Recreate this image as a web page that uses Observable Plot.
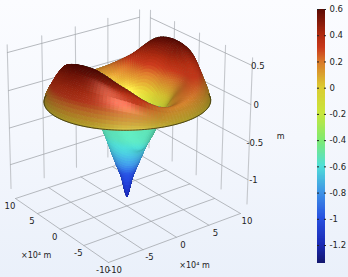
<!DOCTYPE html>
<html><head><meta charset="utf-8">
<script src="https://cdn.jsdelivr.net/npm/d3@7"></script>
<script src="https://cdn.jsdelivr.net/npm/@observablehq/plot@0.6"></script>
<style>
html,body{margin:0;padding:0;width:348px;height:277px;overflow:hidden;background:linear-gradient(180deg,#fbfcff 0%,#f4f7fd 50%,#eaf0fa 100%);}
#wrap{position:relative;width:348px;height:277px}
#wrap svg{position:absolute;left:0;top:0;background:transparent;font-family:"DejaVu Sans",sans-serif}
</style></head><body><div id="wrap"></div>
<script>
// ---- values ----
const colorbarTicks=[0.6,0.4,0.2,0,-0.2,-0.4,-0.6,-0.8,-1,-1.2];
const colorStops=[-1.34,-1.2,-1,-0.8,-0.6,-0.4,-0.2,0,0.2,0.3,0.4,0.6];
const colorRange=["#14186e","#1a2ab4","#2850e0","#3f94e6","#50dfd8","#80ea70","#c8e63c","#dccb32","#d8762a","#c93a1c","#ae2a10","#5a0a04"];
const floorTicks=[-10,-5,0,5,10];
const heightTicks=[-1,-0.5,0,0.5];
const heightLabels=["-1","-0.5","0","0.5"];
const rings=[0,.07,.15,.25,.35,.45,.55,.65,.75,.85,.93,.97,1];
const angles=[0,30,60,90,120,150,180,210,240,270,300,330];
const z000=[-1.3,-1.02,-.8,-.52,-.3,-.08,.1,.24,.32,.3,.16,.08,0];
const z030=[-1.3,-1.02,-.78,-.42,-.17,.1,.32,.48,.56,.5,.3,.16,0];
const z060=[-1.3,-1.02,-.76,-.36,-.08,.18,.4,.55,.58,.46,.25,.13,0];
const z090=[-1.3,-1.02,-.76,-.34,-.1,.06,.18,.28,.3,.25,.14,.07,0];
const z120=[-1.3,-1.02,-.76,-.38,-.2,-.08,.02,.09,.13,.12,.08,.04,0];
const z150=[-1.3,-1.02,-.78,-.44,-.25,-.08,.06,.13,.17,.15,.09,.05,0];
const z180=[-1.3,-1.02,-.8,-.5,-.25,.02,.22,.38,.42,.3,.18,.1,0];
const z210=[-1.3,-1.02,-.8,-.52,-.22,.1,.38,.55,.59,.54,.4,.25,0];
const z240=[-1.3,-1.02,-.82,-.55,-.26,.05,.35,.56,.6,.56,.43,.28,0];
const z270=[-1.3,-1.02,-.84,-.6,-.4,-.1,.15,.33,.41,.41,.33,.22,0];
const z300=[-1.3,-1.02,-.84,-.62,-.52,-.36,-.2,-.04,.1,.18,.14,.08,0];
const z330=[-1.3,-1.02,-.82,-.58,-.4,-.18,.02,.14,.2,.2,.12,.06,0];
const heights=[z000,z030,z060,z090,z120,z150,z180,z210,z240,z270,z300,z330];
const tintIn=[-1.34,-.95,-.8,-.6,-.4,0];
const tintOut=[-1.25,-1,-.8,-.65,-.55,-.52];

// ---- camera ----
const floorZ=-1.43;
function cam(x,y,z){
  const A=(x+10)/20,B=(y+10)/20,d=z-floorZ,c=-0.0215;
  const w=0.0615*A+0.0832*B+1+c*d;
  return {x:(146.76*A-91.75*B+108+c*108*d)/w,y:(-35.9*A-47.5*B+262+c*3800*d)/w,w};
}
const R1=10.05,R2=8.7;
function surf(r,t,z){
  const a=t*Math.PI/180,p=R1*r*Math.cos(a),q=R2*r*Math.sin(a);
  return cam(.806*p+.602*q,-.592*p+.796*q,z);
}
const cr=(a,b,c,d,u)=>.5*(2*b+(c-a)*u+(2*a-5*b+4*c-d)*u*u+(3*b-a-3*c+d)*u*u*u);
function heightAt(ri,ti){ // ri, ti are table indices
  const n=angles.length,m=rings.length;
  const i0=Math.floor(ti),u=ti-i0;
  const col=k=>{
    const j=Math.min(Math.floor(ri),m-2),v=ri-j,h=heights[((i0+k)%n+n)%n];
    return cr(h[Math.max(j-1,0)],h[j],h[j+1],h[Math.min(j+2,m-1)],v);
  };
  return cr(col(-1),col(0),col(1),col(2),u);
}
function ringAt(ri){const j=Math.min(Math.floor(ri),rings.length-2);return rings[j]+(rings[j+1]-rings[j])*(ri-j);}

const base=d3.scaleLinear().domain(colorStops).range(colorRange).clamp(true);
const tint=d3.scaleLinear().domain(tintIn).range(tintOut).clamp(true);
function shade(zv,nv,under,r){
  const zc=under?tint(zv):zv;
  const edge=r>.88?1-.22*(r-.88)/.12:1;
  const col=d3.rgb(base(zc)),f=(under?0.82+0.32*nv:0.72+0.36*nv)*edge,s=(under?.12:.3)*Math.pow(nv,24)*255;
  return d3.rgb(Math.min(255,col.r*f+s),Math.min(255,col.g*f+s),Math.min(255,col.b*f+s)).formatHex();
}
// surface facets, back to front
const NR=72,NT=132,view=[0,-.91,.41];
const vert=[];
for(let i=0;i<=NR;i++){vert[i]=[];const ri=i/NR*(rings.length-1),r=ringAt(ri);
  for(let j=0;j<=NT;j++){const ti=j/NT*angles.length,t=ti*30,z=heightAt(ri,ti);
    vert[i][j]={r,t,z,p:surf(r,t,z),X:r*Math.cos(t*Math.PI/180),Y:r*Math.sin(t*Math.PI/180)};}}
const facets=[];
for(let i=0;i<NR;i++)for(let j=0;j<NT;j++){
  const a=vert[i][j],b=vert[i+1][j],c=vert[i+1][j+1],d=vert[i][j+1];
  const ux=c.X-a.X,uy=c.Y-a.Y,uz=c.z-a.z,wx=d.X-b.X,wy=d.Y-b.Y,wz=d.z-b.z;
  let nx=uy*wz-uz*wy,ny=uz*wx-ux*wz,nz=ux*wy-uy*wx;const l=(Math.hypot(nx,ny,nz)||1)*(nz<0?-1:1);
  const sv=(nx*view[0]+ny*view[1]+nz*view[2])/l;
  const zm=(a.z+b.z+c.z+d.z)/4;
  facets.push({pts:[a,b,c,d],w:(a.p.w+b.p.w+c.p.w+d.p.w)/4,fill:shade(zm,Math.abs(sv),sv<0,b.r)});
}
facets.sort((a,b)=>b.w-a.w);
const rows=[];
facets.forEach((f,id)=>f.pts.forEach(v=>rows.push({x:v.p.x,y:v.p.y,id,fill:f.fill})));

// grid
const grid=[];let gid=0;
const seg=(p,q,k)=>{const g=gid++;grid.push({...p,g,k},{...q,g,k});};
const zT=.6,zB=-1.33,far=11;
for(const t of floorTicks){
  seg(cam(t,-10,floorZ),cam(t,10,floorZ),"f");
  seg(cam(-10,t,floorZ),cam(10,t,floorZ),"f");
  seg(cam(t,far,zB),cam(t,far,zT),"v");
  seg(cam(far,t,zB),cam(far,t,zT),"v");
}
for(const h of heightTicks){
  seg(cam(-10,far,h),cam(10,far,h),"h");
  seg(cam(far,-10,h),cam(far,10,h),"h");
}
// labels (anchored on the projected grid ends)
const labels=[];
for(const t of floorTicks){
  const a=cam(-10,t,floorZ),b=cam(t,-10,floorZ);
  labels.push({x:a.x-5.5,y:a.y+8,s:String(t)});
  labels.push({x:b.x+6.5,y:b.y+8,s:String(t)});
}
heightTicks.forEach((h,i)=>{const p=cam(far,-10,h);labels.push({x:p.x+5.5,y:p.y+1,s:heightLabels[i],a:"start"});});
const mid1=cam(-10,0,floorZ),mid2=cam(0,-10,floorZ),mz=cam(far,-10,-.42);
const unitLabels=[
 {x:mid1.x-24,y:mid1.y+26,s:"×10⁴ m"},
 {x:mid2.x+18,y:mid2.y+28,s:"×10⁴ m"},
 {x:mz.x+31,y:mz.y,s:"m"}];
const rimPts=d3.range(170,372,2).map(t=>surf(1,t,0));

const main=Plot.plot({width:348,height:277,margin:0,
 x:{domain:[0,348],range:[0,348],axis:null},y:{domain:[0,277],range:[0,277],axis:null},
 color:{type:"identity"},
 marks:[
  Plot.line(grid.filter(d=>d.k=="v"),{x:"x",y:"y",z:"g",stroke:"#c4c7cc",strokeWidth:1.1}),
  Plot.line(grid.filter(d=>d.k!="v"),{x:"x",y:"y",z:"g",stroke:"#a4a8ad",strokeWidth:.8}),
  Plot.line(rows,{x:"x",y:"y",z:"id",fill:"fill",stroke:"fill",strokeWidth:.9}),
  Plot.line(rimPts,{x:"x",y:"y",stroke:"#2e2a10",strokeWidth:.8}),
  Plot.text(labels,{x:"x",y:"y",text:"s",textAnchor:d=>d.a||"middle",fill:"#222",fontSize:8.5}),
  Plot.text(unitLabels,{x:"x",y:"y",text:"s",fill:"#222",fontSize:8})
 ]});
const stepZ=d3.range(-1.337,.6,.01);
const bar=Plot.plot({width:348,height:277,marginLeft:317,marginRight:23,marginTop:9,marginBottom:14,
 x:{domain:[0,1],axis:null},y:{domain:[-1.337,.6],axis:null},
 color:{type:"linear",domain:colorStops,range:colorRange},
 marks:[
  Plot.rect(stepZ,{x1:0,x2:1,y1:d=>d,y2:d=>Math.min(.6,d+.02),fill:d=>d}),
  Plot.axisY({anchor:"right",ticks:colorbarTicks,tickSize:-2,tickPadding:6,tickFormat:d=>String(d),fontSize:8.5,stroke:"#222",color:"#222"}),
  Plot.axisY({anchor:"left",ticks:colorbarTicks,tickSize:-2,text:null,stroke:"#222"})
 ]});
const w=document.getElementById("wrap");w.append(main);w.append(bar);
</script></body></html>
